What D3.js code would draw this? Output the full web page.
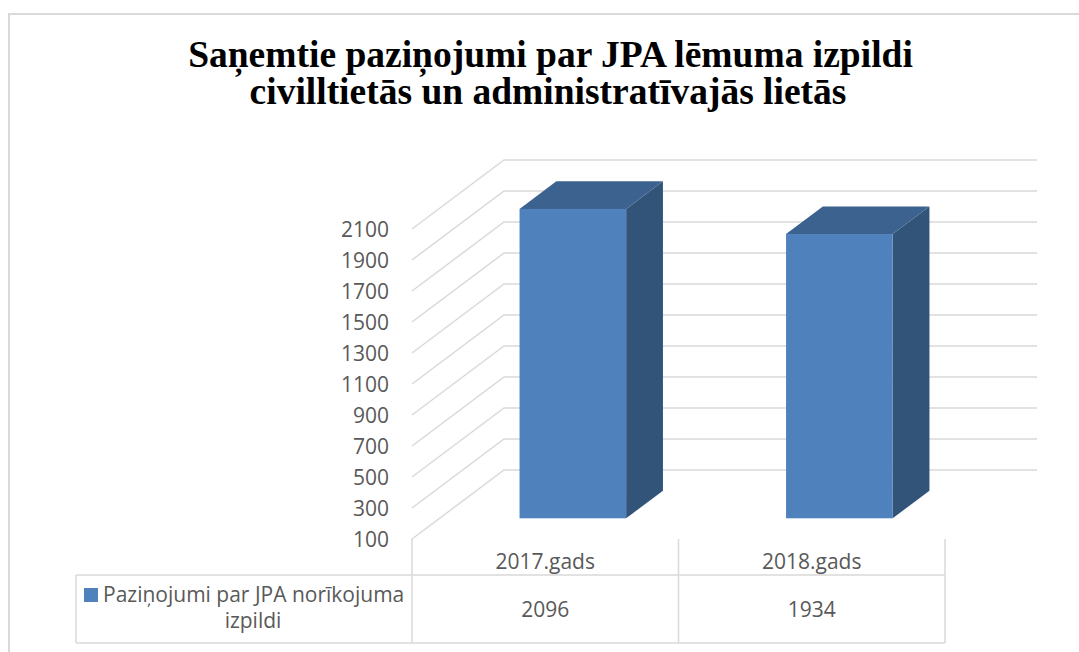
<!DOCTYPE html>
<meta charset="utf-8">
<style>
    body {
        margin: 0;
        background: #fff;
    }

    .tick text, .cell {
        font-family: "Open Sans";
        fill: #595959;
    }

    .title {
        font-family: "Liberation Serif";
        font-weight: bold;
        fill: #000;
    }
</style>
<svg width="1079" height="652"></svg>
<script src="https://d3js.org/d3.v7.min.js"></script>
<script>
    // chart data
    const categories = ["2017.gads", "2018.gads"];
    const values = [2096, 1934];
    const seriesName = ["Paziņojumi par JPA norīkojuma", "izpildi"];
    const yTicks = [100, 300, 500, 700, 900, 1100, 1300, 1500, 1700, 1900, 2100];
    const titleLines = ["Saņemtie paziņojumi par JPA lēmuma izpildi",
        "civilltietās un administratīvajās lietās"];

    var svg = d3.select("svg"),
        width = +svg.attr("width"),
        height = +svg.attr("height");

    const gridColor = "#d9d9d9";

    // front plane of the 3d box and the depth offset
    const plotLeft = 412, plotRight = 945, plotBottom = 539, plotTop = 229;
    const depth = { dx: 92, dy: -69 };
    const barDepth = [0.3, 0.7];

    var x = d3.scaleBand()
        .domain(categories)
        .range([plotLeft, plotRight]);

    var y = d3.scaleLinear()
        .domain([100, 2100])
        .range([plotBottom, plotTop]);

    // chart area border
    svg.append("rect")
        .attr("x", 9)
        .attr("y", 14)
        .attr("width", 1200)
        .attr("height", 800)
        .style("fill", "none")
        .style("stroke", gridColor)
        .style("stroke-width", 2);

    // title
    svg.append("g")
        .selectAll("text")
        .data(titleLines)
        .enter().append("text")
        .attr("class", "title")
        .attr("x", (d, i) => i ? 548 : 550.5)
        .attr("y", (d, i) => 67 + i * 37)
        .attr("text-anchor", "middle")
        .style("font-size", "37.5px")
        .text(d => d);

    // gridlines: side wall diagonal + back wall
    svg.append("g")
        .selectAll("polyline")
        .data(yTicks)
        .enter().append("polyline")
        .attr("points", function (d) {
            let yy = y(d);
            return [
                [plotLeft, yy],
                [plotLeft + depth.dx, yy + depth.dy],
                [plotRight + depth.dx, yy + depth.dy]
            ].join(" ");
        })
        .style("fill", "none")
        .style("stroke", gridColor)
        .style("stroke-width", 1.5);

    // value axis labels
    var yAxis = svg.append("g")
        .attr("transform", "translate(389,0)")
        .call(d3.axisLeft(y).tickValues(yTicks).tickSize(0).tickPadding(0).tickFormat(d3.format("d")));
    yAxis.select(".domain").remove();
    yAxis.selectAll("text")
        .style("font-size", "21px")
        .attr("dy", "0.36em");

    // 3d bars
    const f0 = barDepth[0], f1 = barDepth[1];
    const bw = x.bandwidth() * 0.4;

    var bars = svg.append("g")
        .selectAll("g")
        .data(categories.map((c, i) => ({ cat: c, value: values[i] })))
        .enter().append("g");

    function pt(px, py, f) {
        return [px + depth.dx * f, py + depth.dy * f];
    }

    bars.each(function (d) {
        let g = d3.select(this);
        let cx = x(d.cat) + x.bandwidth() / 2;
        let x0 = cx - bw / 2, x1 = cx + bw / 2;
        let yb = y(100), yt = y(d.value);

        // side face
        g.append("polygon")
            .attr("points", [pt(x1, yt, f0), pt(x1, yt, f1), pt(x1, yb, f1), pt(x1, yb, f0)].join(" "))
            .style("fill", "#325479");
        // top face
        g.append("polygon")
            .attr("points", [pt(x0, yt, f0), pt(x0, yt, f1), pt(x1, yt, f1), pt(x1, yt, f0)].join(" "))
            .style("fill", "#3c6390");
        // front face
        let a = pt(x0, yt, f0), b = pt(x1, yb, f0);
        g.append("rect")
            .attr("x", a[0])
            .attr("y", a[1])
            .attr("width", b[0] - a[0])
            .attr("height", b[1] - a[1])
            .style("fill", "#4f81bd");
    });

    // data table
    var table = svg.append("g")
        .style("stroke", gridColor)
        .style("stroke-width", 1.5);

    const rowTop = 575, rowBottom = 643, legendLeft = 76;

    [plotLeft, x(categories[1]), plotRight].forEach(function (vx) {
        table.append("line")
            .attr("x1", vx).attr("x2", vx)
            .attr("y1", plotBottom).attr("y2", rowBottom);
    });
    table.append("line")
        .attr("x1", legendLeft).attr("x2", legendLeft)
        .attr("y1", rowTop).attr("y2", rowBottom);
    [rowTop, rowBottom].forEach(function (hy) {
        table.append("line")
            .attr("x1", legendLeft).attr("x2", plotRight)
            .attr("y1", hy).attr("y2", hy);
    });

    // category labels and values
    svg.append("g")
        .selectAll("text")
        .data(categories)
        .enter().append("text")
        .attr("class", "cell")
        .attr("x", d => x(d) + x.bandwidth() / 2)
        .attr("y", 569)
        .attr("text-anchor", "middle")
        .style("font-size", "21px")
        .text(d => d);

    svg.append("g")
        .selectAll("text")
        .data(values)
        .enter().append("text")
        .attr("class", "cell")
        .attr("x", (d, i) => x(categories[i]) + x.bandwidth() / 2)
        .attr("y", 617)
        .attr("text-anchor", "middle")
        .style("font-size", "21px")
        .text(d => d);

    // legend key in the table
    svg.append("rect")
        .attr("x", 84)
        .attr("y", 588)
        .attr("width", 14)
        .attr("height", 14)
        .style("fill", "#4f81bd");

    svg.append("text")
        .attr("class", "cell")
        .attr("x", 103)
        .attr("y", 602)
        .style("font-size", "21px")
        .text(seriesName[0]);

    svg.append("text")
        .attr("class", "cell")
        .attr("x", 253)
        .attr("y", 628)
        .attr("text-anchor", "middle")
        .style("font-size", "21px")
        .text(seriesName[1]);
</script>
